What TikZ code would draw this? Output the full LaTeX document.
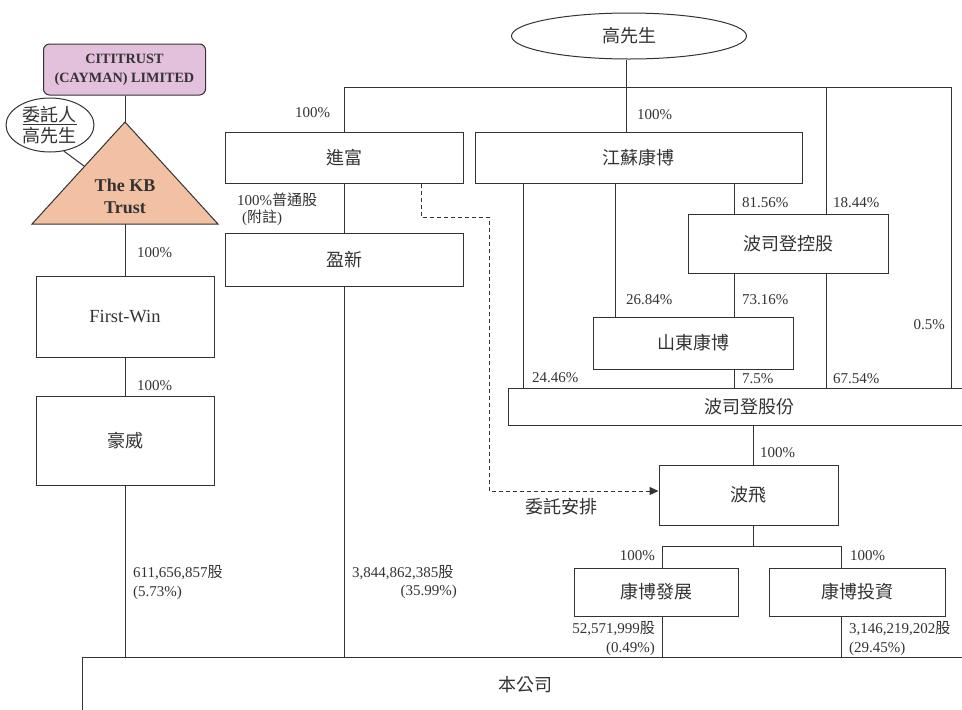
\documentclass[tikz,border=0pt]{standalone}
\usepackage{fontspec}
\setmainfont{Liberation Serif}
\newfontfamily\zhfont{Noto Sans CJK TC}
\newcommand{\zh}[1]{{\zhfont #1}}
\usetikzlibrary{arrows.meta,shapes.geometric}
\definecolor{ink}{HTML}{333333}
\definecolor{citifill}{HTML}{E3C0DB}
\definecolor{trifill}{HTML}{F2C0A3}
\begin{document}
\begin{tikzpicture}[x=1pt,y=-1pt,
  box/.style={draw=ink, rectangle, line width=1pt, inner sep=0pt, text=ink,
    font=\fontsize{18}{20}\selectfont\zhfont},
  lbl/.style={inner sep=0pt, text=ink, font=\fontsize{15}{19}\selectfont},
  conn/.style={draw=ink, line width=1pt},
  dashconn/.style={draw=ink, line width=1pt, dash pattern=on 4pt off 3pt}]
\useasboundingbox (0,0) rectangle (962,710);

% left column
\node[box, rounded corners=6pt, fill=citifill, minimum width=162pt, minimum height=51pt,
  align=center, font=\fontsize{14.2}{19}\selectfont\bfseries] (citi) at (124.5,69.5)
  {CITITRUST\\(CAYMAN) LIMITED};
\coordinate (apex) at (125,122);
\coordinate (baseR) at (218,224);
\coordinate (baseL) at (32,224);
\coordinate (basemid) at (125,224);
\coordinate (trileft) at (84,166);
\draw[conn, fill=trifill] (apex) -- (baseR) -- (baseL) -- cycle;
\node[inner sep=0pt, text=ink, align=center, font=\fontsize{18}{22}\selectfont\bfseries] (kb) at (125,196) {The KB\\Trust};
\node[draw=ink, line width=1pt, ellipse, minimum width=88pt, minimum height=54pt, inner sep=0pt,
  fill=white, text=ink, align=center, font=\fontsize{18}{21}\selectfont\zhfont] (wt) at (50,125)
  {\underline{委託人}\\高先生};
\draw[conn] (wt.-62) -- (trileft);
\draw[conn] (citi.south -| apex) -- (apex);

\node[box, minimum width=178pt, minimum height=81pt, font=\fontsize{18.5}{20}\selectfont] (fw) at (125,316.5) {First-Win};
\node[box, minimum width=178pt, minimum height=89pt] (hw) at (125,440.5) {豪威};
\node[box, minimum width=886pt, minimum height=56pt] (co) at (525,685) {本公司};

\draw[conn] (basemid) -- (fw.north);
\draw[conn] (fw.south) -- (hw.north);
\draw[conn] (hw.south) -- (hw.south |- co.north);
\node[lbl, anchor=west] (p1) at (137,253) {100\%};
\node[lbl, anchor=west] (p2) at (137,386) {100\%};
\node[lbl, anchor=west, align=left] (p3) at (133,582.5) {611,656,857\zh{股}\\(5.73\%)};

% middle column
\node[box, minimum width=238pt, minimum height=51pt] (jf) at (344,157.5) {進富};
\node[box, minimum width=238pt, minimum height=53pt] (yx) at (344,259.5) {盈新};
\coordinate (barL) at (344,87);
\coordinate (barR) at (951,87);
\draw[conn] (jf.north) -- (barL) -- (barR);
\draw[conn] (jf.south) -- (yx.north);
\draw[conn] (yx.south) -- (yx.south |- co.north);
\node[lbl, anchor=west] (p4) at (295,113) {100\%};
\node[lbl, anchor=west] (p5) at (237,200) {100\%\zh{普通股}};
\node[lbl, anchor=west] (p6) at (242,218) {(\zh{附註})};
\node[lbl, anchor=west] (p7) at (352,573) {3,844,862,385\zh{股}};
\node[lbl, anchor=east] (p8) at (457,592) {(35.99\%)};

% top right
\node[draw=ink, line width=1pt, ellipse, minimum width=235pt, minimum height=46pt, inner sep=0pt,
  text=ink, font=\fontsize{18}{20}\selectfont\zhfont] (gao) at (629,36) {高先生};
\coordinate (gx) at (626,87);
\draw[conn] (gao.south -| gx) -- (gx);
\node[box, minimum width=327pt, minimum height=51pt] (js) at (638.5,157.5) {江蘇康博};
\draw[conn] (gx) -- (js.north -| gx);
\node[lbl, anchor=west] (p9) at (637,115) {100\%};

\node[box, minimum width=200pt, minimum height=59pt] (kg) at (788,243.5) {波司登控股};
\node[box, minimum width=200pt, minimum height=52pt] (sd) at (693,343) {山東康博};
\node[box, minimum width=482pt, minimum height=37pt] (gf) at (749,406.5) {波司登股份};

\coordinate (c523) at (523,0);
\coordinate (c615) at (615,0);
\coordinate (c734) at (734,0);
\coordinate (c826) at (826,87);
\coordinate (c951) at (951,0);
\draw[conn] (js.south -| c523) -- (gf.north -| c523);
\draw[conn] (js.south -| c615) -- (sd.north -| c615);
\draw[conn] (js.south -| c734) -- (kg.north -| c734);
\draw[conn] (kg.south -| c734) -- (sd.north -| c734);
\draw[conn] (sd.south -| c734) -- (gf.north -| c734);
\draw[conn] (c826) -- (kg.north -| c826);
\draw[conn] (kg.south -| c826) -- (gf.north -| c826);
\draw[conn] (barR) -- (gf.north -| c951);

\node[lbl, anchor=west] (q1) at (742,203) {81.56\%};
\node[lbl, anchor=west] (q2) at (833,203) {18.44\%};
\node[lbl, anchor=west] (q3) at (626,300) {26.84\%};
\node[lbl, anchor=west] (q4) at (742,300) {73.16\%};
\node[lbl, anchor=east] (q5) at (945,325) {0.5\%};
\node[lbl, anchor=west] (q6) at (532,378) {24.46\%};
\node[lbl, anchor=west] (q7) at (742,379) {7.5\%};
\node[lbl, anchor=west] (q8) at (833,379) {67.54\%};

% lower right
\node[box, minimum width=179pt, minimum height=60pt] (bf) at (748.5,495) {波飛};
\coordinate (c753) at (753,0);
\draw[conn] (gf.south -| c753) -- (bf.north -| c753);
\node[lbl, anchor=west] (q9) at (760,453) {100\%};

\node[box, minimum width=164pt, minimum height=48pt] (fz) at (656,592) {康博發展};
\node[box, minimum width=176pt, minimum height=48pt] (tz) at (857,592) {康博投資};
\coordinate (splitL) at (662,546);
\coordinate (splitR) at (841,546);
\draw[conn] (bf.south -| c753) -- (c753 |- splitL);
\draw[conn] (fz.north -| splitL) -- (splitL) -- (splitR) -- (tz.north -| splitR);
\draw[conn] (fz.south -| splitL) -- (co.north -| splitL);
\draw[conn] (tz.south -| splitR) -- (co.north -| splitR);
\node[lbl, anchor=east] (r1) at (655,556) {100\%};
\node[lbl, anchor=west] (r2) at (850,556) {100\%};
\node[lbl, anchor=east, align=right] (r3) at (655,638.5) {52,571,999\zh{股}\\(0.49\%)};
\node[lbl, anchor=west, align=left] (r4) at (849,638.5) {3,146,219,202\zh{股}\\(29.45\%)};

% dashed arrangement
\coordinate (d1) at (421,217);
\coordinate (d2) at (489,217);
\coordinate (d3) at (489,491);
\draw[dashconn, -{Triangle[length=9pt,width=8pt]}] (jf.south -| d1) -- (d1) -- (d2) -- (d3) -- (bf.west |- d3);
\node[inner sep=0pt, text=ink, font=\fontsize{18}{20}\selectfont\zhfont] (wt2) at (561,507) {委託安排};
\end{tikzpicture}
\end{document}
